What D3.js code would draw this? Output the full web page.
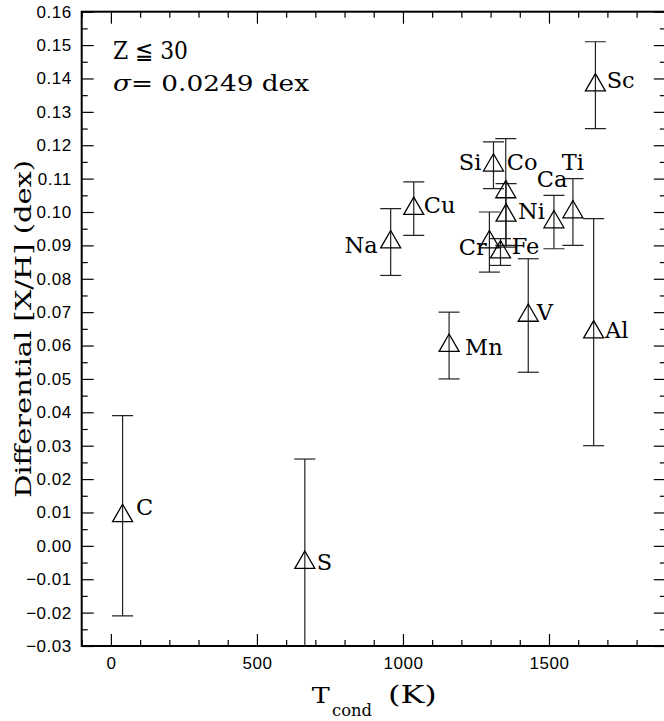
<!DOCTYPE html>
<html>
<head>
<meta charset="utf-8">
<script src="https://cdn.jsdelivr.net/npm/d3@7"></script>
<style>
  body { margin: 0; background: #fff; }
  svg { display: block; }
  .tick text { font-family: "Liberation Sans", Arial, sans-serif; font-size: 17px; letter-spacing: 0.5px; fill: #000; }
  .tick line { stroke: #000; stroke-width: 1.2; }
  .lbl { font-family: "DejaVu Serif", serif; font-size: 22.5px; fill: #000; }
  .ttl { font-family: "DejaVu Serif", serif; fill: #000; }
</style>
</head>
<body>
<svg id="chart" width="664" height="721"></svg>
<script>
// element, condensation temperature (K), differential abundance and error (dex)
const elements = ["C", "S", "Na", "Cu", "Mn", "Si", "Co", "Ni", "Cr", "Fe", "V", "Ca", "Ti", "Sc", "Al"];
const tcond    = [40, 664, 958, 1037, 1158, 1310, 1352, 1353, 1296, 1334, 1429, 1517, 1582, 1659, 1653];
const dXH      = [0.009, -0.005, 0.091, 0.101, 0.060, 0.114, 0.106, 0.099, 0.091, 0.088, 0.069, 0.097, 0.100, 0.138, 0.064];
const errXH    = [0.030, 0.031, 0.010, 0.008, 0.010, 0.007, 0.016, 0.0095, 0.009, 0.004, 0.017, 0.008, 0.010, 0.013, 0.034];

const xMajor = [0, 500, 1000, 1500];
const yMajor = d3.range(-3, 17).map(d => d / 100);

// where each name sits relative to its marker (px)
const labelOffset = {
  C: [13.5, -1, "start"], S: [12, 7.5, "start"], Na: [-13, 11, "end"], Cu: [10, 4.5, "start"],
  Mn: [16, 9.5, "start"], Si: [-12, 4.7, "end"], Co: [1, -22, "start"], Ni: [12, 3.6, "start"],
  Cr: [-2.7, 13.3, "end"], Fe: [11.2, 2, "start"], V: [8.5, 4.5, "start"], Ca: [-17.2, -35.3, "start"],
  Ti: [-11.2, -42, "start"], Sc: [11.3, 3.2, "start"], Al: [11.4, 6, "start"]
};

const L = 81.7, R = 665.8, T = 11.7, B = 646;
const svg = d3.select("#chart");
svg.append("rect").attr("width", 664).attr("height", 721).attr("fill", "#fff");

const x = d3.scaleLinear().domain([-100, 1900]).range([L, R]);
const y = d3.scaleLinear().domain([-0.03, 0.16]).range([B, T]);

const xMinor = d3.range(-100, 1901, 100).filter(d => d % 500 !== 0);
const yMinor = d3.range(-30, 161, 5).filter(d => d % 10 !== 0).map(d => d / 1000);

function axisPair(axisFn, scale, pos, major, minor, labels, fmt, pad) {
  const g = svg.append("g").attr("transform", pos);
  g.append("g").call(axisFn(scale).tickValues(major).tickSizeInner(-12).tickSizeOuter(0)
    .tickPadding(pad).tickFormat(labels ? fmt : ""));
  g.append("g").call(axisFn(scale).tickValues(minor).tickSizeInner(-6).tickSizeOuter(0).tickFormat(""));
  g.selectAll(".domain").remove();
  return g;
}
axisPair(d3.axisBottom, x, `translate(0,${B})`, xMajor, xMinor, true, d3.format("d"), 11);
axisPair(d3.axisTop, x, `translate(0,${T})`, xMajor, xMinor, false);
axisPair(d3.axisLeft, y, `translate(${L},0)`, yMajor, yMinor, true, d3.format(".2f"), 10);
axisPair(d3.axisRight, y, `translate(${R},0)`, yMajor, yMinor, false);

svg.append("rect").attr("x", L).attr("y", T).attr("width", R - L).attr("height", B - T)
  .attr("fill", "none").attr("stroke", "#000").attr("stroke-width", 2);

svg.append("clipPath").attr("id", "plot").append("rect")
  .attr("x", L).attr("y", T).attr("width", R - L).attr("height", B - T);

const pts = elements.map((e, i) => ({ el: e, t: tcond[i], v: dXH[i], err: errXH[i] }));
const data = svg.append("g").attr("clip-path", "url(#plot)");
const cap = 10.5;

const bars = data.selectAll("g.bar").data(pts).join("g").attr("class", "bar")
  .attr("stroke", "#222").attr("stroke-width", 1.2).attr("fill", "none");
bars.append("line").attr("x1", d => x(d.t)).attr("x2", d => x(d.t))
  .attr("y1", d => y(d.v + d.err)).attr("y2", d => y(d.v - d.err));
bars.append("line").attr("x1", d => x(d.t) - cap).attr("x2", d => x(d.t) + cap)
  .attr("y1", d => y(d.v + d.err)).attr("y2", d => y(d.v + d.err));
bars.append("line").attr("x1", d => x(d.t) - cap).attr("x2", d => x(d.t) + cap)
  .attr("y1", d => y(d.v - d.err)).attr("y2", d => y(d.v - d.err));

const tri = d3.symbol().type(d3.symbolTriangle).size(173);
data.selectAll("path.mk").data(pts).join("path").attr("class", "mk")
  .attr("d", tri).attr("transform", d => `translate(${x(d.t)},${y(d.v)})`)
  .attr("fill", "none").attr("stroke", "#000").attr("stroke-width", 1.3);

svg.selectAll("text.lbl").data(pts).join("text").attr("class", "lbl")
  .attr("x", d => x(d.t) + labelOffset[d.el][0])
  .attr("y", d => y(d.v) + labelOffset[d.el][1])
  .attr("text-anchor", d => labelOffset[d.el][2])
  .text(d => d.el);

// annotation
svg.append("text").attr("class", "ttl").attr("x", 113).attr("y", 59).attr("font-size", 24)
  .attr("textLength", 75).attr("lengthAdjust", "spacingAndGlyphs").text("Z \u2266 30");
const s2 = svg.append("text").attr("class", "ttl").attr("x", 113).attr("y", 91).attr("font-size", 23)
  .attr("textLength", 196).attr("lengthAdjust", "spacingAndGlyphs");
s2.append("tspan").attr("font-style", "italic").text("\u03c3");
s2.append("tspan").text("= 0.0249 dex");

// axis titles
svg.append("text").attr("class", "ttl").attr("font-size", 23)
  .attr("transform", `translate(31,${(T + B) / 2}) rotate(-90)`)
  .attr("text-anchor", "middle").attr("textLength", 338).attr("lengthAdjust", "spacingAndGlyphs")
  .text("Differential [X/H] (dex)");
svg.append("text").attr("class", "ttl").attr("font-size", 23).attr("x", 311.7).attr("y", 703.3)
  .attr("textLength", 18).attr("lengthAdjust", "spacingAndGlyphs").text("T");
svg.append("text").attr("class", "ttl").attr("font-size", 16).attr("x", 332).attr("y", 716)
  .attr("textLength", 40).attr("lengthAdjust", "spacingAndGlyphs").text("cond");
svg.append("text").attr("class", "ttl").attr("font-size", 24).attr("x", 388).attr("y", 703.3)
  .attr("textLength", 48.7).attr("lengthAdjust", "spacingAndGlyphs").text("(K)");
</script>
</body>
</html>
